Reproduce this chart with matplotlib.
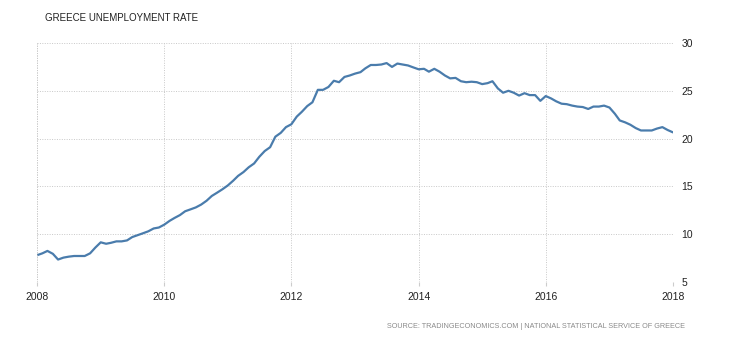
import matplotlib
matplotlib.use("Agg")
import matplotlib.pyplot as plt
import matplotlib.dates as mdates
import pandas as pd

# monthly unemployment rate (%), Jan 2008 .. Jan 2018
rate = [
    7.8, 8.0, 8.25, 7.95, 7.35, 7.55, 7.65, 7.72, 7.72, 7.72, 8.0, 8.6,
    9.15, 9.0, 9.1, 9.25, 9.25, 9.35, 9.7, 9.9, 10.1, 10.3, 10.6, 10.7,
    11.0, 11.4, 11.7, 12.0, 12.4, 12.6, 12.8, 13.1, 13.5, 14.0, 14.35, 14.7,
    15.1, 15.6, 16.1, 16.5, 17.0, 17.4, 18.1, 18.7, 19.1, 20.2, 20.6, 21.2,
    21.5, 22.3, 22.8, 23.4, 23.8, 25.1, 25.1, 25.4, 26.05, 25.9, 26.45, 26.6,
    26.8, 26.95, 27.35, 27.7, 27.7, 27.75, 27.9, 27.5, 27.85, 27.75, 27.65, 27.45,
    27.25, 27.3, 27.0, 27.3, 27.0, 26.6, 26.3, 26.35, 26.0, 25.9, 25.95, 25.9,
    25.7, 25.8, 26.0, 25.25, 24.8, 25.0, 24.8, 24.5, 24.75, 24.55, 24.55, 23.95,
    24.45, 24.2, 23.9, 23.65, 23.6, 23.45, 23.35, 23.3, 23.1, 23.35, 23.35, 23.45,
    23.25, 22.6, 21.9, 21.7, 21.45, 21.1, 20.85, 20.85, 20.85, 21.05, 21.2, 20.9,
    20.65,
]
dates = pd.date_range("2008-01-01", periods=len(rate), freq="MS")
year_ticks = [2008, 2010, 2012, 2014, 2016, 2018]
y_ticks = [5, 10, 15, 20, 25, 30]

plt.rcParams['font.family'] = ['Liberation Sans', 'DejaVu Sans']

fig = plt.figure(figsize=(7.3, 3.4), dpi=100)
ax = fig.add_axes([37 / 730, 1 - 282 / 340, 636 / 730, 239 / 340])

ax.plot(dates, rate, color='#4a7cac', linewidth=1.6, solid_capstyle='round')

ax.set_xlim(pd.Timestamp("2008-01-01"), pd.Timestamp("2018-01-01"))
ax.set_ylim(5, 30)
ax.set_xticks([pd.Timestamp(f"{y}-01-01") for y in year_ticks])
ax.xaxis.set_major_formatter(mdates.DateFormatter("%Y"))
ax.set_yticks(y_ticks)

ax.yaxis.tick_right()
ax.tick_params(axis='y', length=0, pad=6, labelsize=7.5, labelcolor='#222222')
ax.tick_params(axis='x', length=3, color='#cccccc', pad=4, labelsize=7.5,
               labelcolor='#222222')

ax.grid(True, color='#c8c8c8', linestyle=(0, (1, 1.5)), linewidth=0.7)
for s in ax.spines.values():
    s.set_visible(False)
# dotted left edge like the grid
ax.axvline(pd.Timestamp("2008-01-01"), color='#c8c8c8', linestyle=(0, (1, 1.5)), linewidth=0.7)

fig.text(45 / 730, 1 - 18 / 340, "GREECE UNEMPLOYMENT RATE", fontsize=7,
         color='#222222', va='center', ha='left')
fig.text(685 / 730, 1 - 326 / 340,
         "SOURCE: TRADINGECONOMICS.COM | NATIONAL STATISTICAL SERVICE OF GREECE",
         fontsize=5.2, color='#8a8a8a', va='center', ha='right')

fig.savefig("out.png", dpi=100)
